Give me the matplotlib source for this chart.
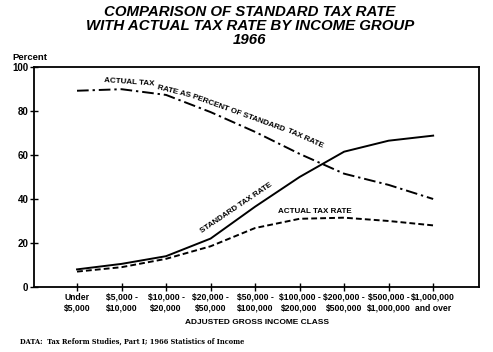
import numpy as np
import matplotlib
matplotlib.use("Agg")
import matplotlib.pyplot as plt

# income classes (two-line tick labels)
classes = ["Under\n$5,000", "$5,000 -\n$10,000", "$10,000 -\n$20,000",
           "$20,000 -\n$50,000", "$50,000 -\n$100,000", "$100,000 -\n$200,000",
           "$200,000 -\n$500,000", "$500,000 -\n$1,000,000", "$1,000,000\nand over"]

# percent values
standard = [8, 10.5, 14, 22, 36.5, 50, 61.5, 66.5, 68.8]
actual = [7, 9, 12.8, 18.5, 26.8, 31, 31.5, 30, 28]
ratio = [89.2, 89.9, 87.3, 79.5, 70.5, 60.5, 51.5, 46.4, 40]

yticks = [0, 20, 40, 60, 80, 100]

fam = "Liberation Sans"

fig = plt.figure(figsize=(4.93, 3.52), dpi=100)
ax = fig.add_axes([0.069, 0.1847, 0.9026, 0.625])

x = np.arange(len(classes))
ax.plot(x, standard, color="black", lw=1.4, solid_joinstyle="miter")
ax.plot(x, actual, color="black", lw=1.4, dashes=(3, 1.6))
ax.plot(x, ratio, color="black", lw=1.4, dashes=(6, 2, 1.2, 2))

ax.set_xlim(-0.966, 9.03)
ax.set_ylim(0, 100)
ax.set_xticks(x)
ax.set_xticklabels(classes, fontsize=6.2, fontfamily=fam, fontweight="bold", linespacing=1.35)
ax.set_yticks(yticks)
ax.set_yticklabels([str(v) for v in yticks], fontsize=7, fontfamily=fam, fontweight="bold")
ax.tick_params(direction="inout", length=6, width=1, pad=1)
for s in ax.spines.values():
    s.set_linewidth(1.3)

ax.set_xlabel("ADJUSTED GROSS INCOME CLASS", fontsize=6, fontfamily=fam,
              fontweight="bold", labelpad=4)

# labels along the curves
lab = dict(fontsize=5.8, fontfamily=fam, fontweight="bold", ha="center", va="center",
           rotation_mode="anchor")
ax.text(1.18, 92.9, "ACTUAL TAX", rotation=-4, **lab)
ax.text(2.17, 89.0, "RATE AS", rotation=-14, **lab)
ax.text(3.62, 78.8, "PERCENT OF STANDARD", rotation=-20, **lab)
ax.text(5.12, 67.3, "TAX RATE", rotation=-24, **lab)
ax.text(3.58, 35.8, "STANDARD TAX RATE", rotation=34, **lab)
ax.text(5.35, 34.5, "ACTUAL TAX RATE", rotation=0, **lab)

fig.text(0.026, 0.83, "Percent", fontsize=6.8, fontfamily=fam, fontweight="bold")

title = "COMPARISON OF STANDARD TAX RATE\nWITH ACTUAL TAX RATE BY INCOME GROUP\n1966"
fig.text(0.507, 0.985, title, ha="center", va="top", fontsize=10.8, fontfamily=fam,
         fontweight="heavy", fontstyle="italic", linespacing=1.0)

fig.text(0.04, 0.025, "DATA:  Tax Reform Studies, Part I; 1966 Statistics of Income",
         fontsize=4.8, fontfamily="DejaVu Serif", fontweight="bold")

fig.savefig("out.png", dpi=100)
